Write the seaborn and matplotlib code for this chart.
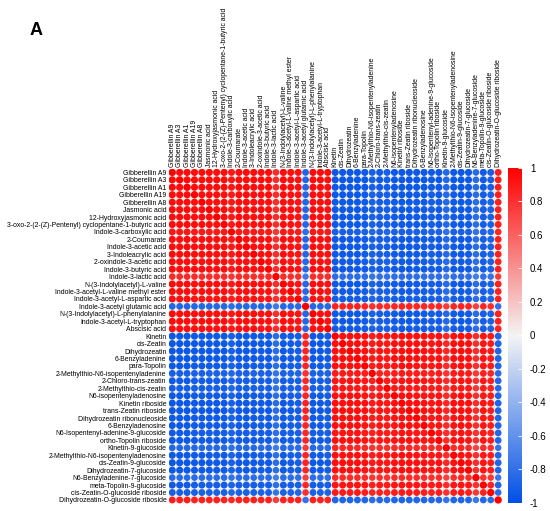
import numpy as np
import pandas as pd
import seaborn as sns
import matplotlib
matplotlib.use("Agg")
import matplotlib.pyplot as plt
from matplotlib.colors import LinearSegmentedColormap, Normalize
from matplotlib.cm import ScalarMappable

# compound names, same order on both axes
compounds = [
    "Gibberellin A9", "Gibberellin A3", "Gibberellin A1", "Gibberellin A19", "Gibberellin A8",
    "Jasmonic acid", "12-Hydroxyjasmonic acid",
    "3-oxo-2-(2-(Z)-Pentenyl) cyclopentane-1-butyric acid",
    "Indole-3-carboxylic acid", "2-Coumarate", "Indole-3-acetic acid", "3-Indoleacrylic acid",
    "2-oxindole-3-acetic acid", "Indole-3-butyric acid", "Indole-3-lactic acid",
    "N-(3-Indolylacetyl)-L-valine", "Indole-3-acetyl-L-valine methyl ester",
    "Indole-3-acetyl-L-aspartic acid", "Indole-3-acetyl glutamic acid",
    "N-(3-Indolylacetyl)-L-phenylalanine", "Indole-3-acetyl-L-tryptophan", "Abscisic acid",
    "Kinetin", "cis-Zeatin", "Dihydrozeatin", "6-Benzyladenine", "para-Topolin",
    "2-Methylthio-N6-isopentenyladenine", "2-Chloro-trans-zeatin", "2-Methylthio-cis-zeatin",
    "N6-isopentenyladenosine", "Kinetin riboside", "trans-Zeatin riboside",
    "Dihydrozeatin ribonucleoside", "6-Benzyladenosine", "N6-Isopentenyl-adenine-9-glucoside",
    "ortho-Topolin riboside", "Kinetin-9-glucoside", "2-Methylthio-N6-isopentenyladenosine",
    "cis-Zeatin-9-glucoside", "Dihydrozeatin-7-glucoside", "N6-Benzyladenine-7-glucoside",
    "meta-Topolin-9-glucoside", "cis-Zeatin-O-glucoside riboside",
    "Dihydrozeatin-O-glucoside riboside",
]

# which side of the split each compound falls on (+1 red block, -1 blue block)
side = [1, 1, 1, 1, 1, 1, 1, 1, 1, 1, 1, 1, 1, 1, 1, 1, 1, 1, -1, 1, 1, 1,
        -1, -1, -1, -1, -1, -1, -1, -1, -1, -1, -1, -1, -1, -1, -1, -1, -1, -1, -1, -1,
        -1, -1, 1]

# how strongly each compound follows its block (read from circle shade)
strength = [0.98, 0.98, 0.98, 0.97, 0.97, 0.97, 0.97, 0.97, 0.93, 0.97, 0.97, 0.97,
            0.96, 0.97, 0.85, 0.97, 0.96, 0.95, 0.88, 0.97, 0.97, 0.96,
            0.97, 0.97, 0.97, 0.97, 0.96, 0.92, 0.95, 0.93, 0.96, 0.97, 0.97, 0.96,
            0.96, 0.95, 0.96, 0.87, 0.96, 0.97, 0.96, 0.85, 0.95, 0.92, 0.90]

s = np.array(side) * np.array(strength)
corr = np.outer(s, s)
np.fill_diagonal(corr, 1.0)

n = len(compounds)
rows, cols = np.meshgrid(np.arange(n), np.arange(n), indexing="ij")
df = pd.DataFrame({"x": cols.ravel(), "y": rows.ravel(), "r": corr.ravel()})
df["size"] = df["r"].abs()

cmap = LinearSegmentedColormap.from_list("bwr2", ["#0050E6", "#F4F4F4", "#FF0000"])

plt.rcParams["font.family"] = ["Liberation Sans", "DejaVu Sans"]
fig = plt.figure(figsize=(5.5, 5.11), dpi=100)
ax = fig.add_axes([0.3065, 0.0143, 0.606, 0.6556])

sns.scatterplot(data=df, x="x", y="y", hue="r", size="size", palette=cmap,
                hue_norm=(-1, 1), sizes=(0, 28), size_norm=(0, 1),
                edgecolor="none", legend=False, ax=ax)

ax.set_xlim(-0.5, n - 0.5)
ax.set_ylim(n - 0.5, -0.5)
ax.set_xticks(np.arange(n))
ax.set_yticks(np.arange(n))
ax.set_xticklabels(compounds, rotation=90, fontsize=4.95)
ax.set_yticklabels(compounds, fontsize=4.95)
ax.xaxis.tick_top()
ax.tick_params(length=0, pad=1.5)
ax.set_xlabel("")
ax.set_ylabel("")
ax.set_xticks(np.arange(n + 1) - 0.5, minor=True)
ax.set_yticks(np.arange(n + 1) - 0.5, minor=True)
ax.grid(which="minor", color="#E2E2D8", linewidth=0.4)
ax.tick_params(which="minor", length=0)
ax.set_axisbelow(True)
for sp in ax.spines.values():
    sp.set_visible(False)

cax = fig.add_axes([0.9236, 0.0157, 0.0249, 0.6556])
cb = fig.colorbar(ScalarMappable(norm=Normalize(-1, 1), cmap=cmap), cax=cax)
cb.outline.set_visible(False)
cb.set_ticks(np.arange(-1, 1.01, 0.2))
cb.set_ticklabels(["-1", "-0.8", "-0.6", "-0.4", "-0.2", "0", "0.2", "0.4", "0.6", "0.8", "1"])
cax.tick_params(direction="in", color="white", length=3, width=0.6, labelsize=7, pad=6)

fig.text(0.065, 0.94, "A", fontsize=13, fontweight="bold", ha="center", va="center")

fig.savefig("out.png", dpi=100)
